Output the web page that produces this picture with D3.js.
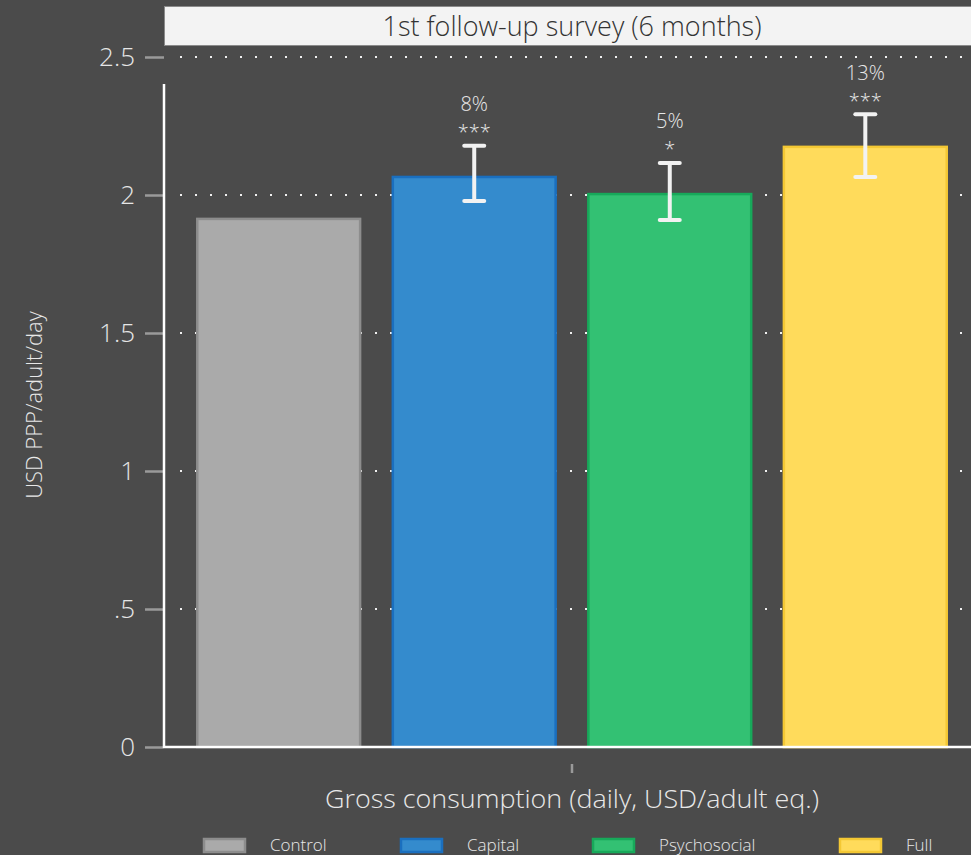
<!DOCTYPE html>
<html>
<head>
<meta charset="utf-8">
<script src="https://cdn.jsdelivr.net/npm/d3@7/dist/d3.min.js"></script>
<style>
  html, body { margin: 0; padding: 0; background: #4b4b4b; }
  svg { display: block; }
  text { font-family: "Open Sans", "Noto Sans", sans-serif; }
</style>
</head>
<body>
<script>
// ---- Data ----
const categories = ["Control", "Capital", "Psychosocial", "Full"];
const means = [1.917, 2.069, 2.007, 2.178];
const ciLow = [null, 1.978, 1.909, 2.065];
const ciHigh = [null, 2.178, 2.116, 2.293];
const pctLabels = ["", "8%", "5%", "13%"];
const starLabels = ["", "***", "*", "***"];
const fills = ["#aaaaaa", "#348bcd", "#33c173", "#ffdb5b"];
const strokes = ["#8d8d8d", "#1a6fbf", "#17a95a", "#f4c834"];
const yTicks = [0, 0.5, 1, 1.5, 2, 2.5];
const yTickLabels = ["0", ".5", "1", "1.5", "2", "2.5"];
const titleText = "1st follow-up survey (6 months)";
const xTitle = "Gross consumption (daily, USD/adult eq.)";
const yTitle = "USD PPP/adult/day";

// ---- Layout ----
const W = 971, H = 855;
const svg = d3.select("body").append("svg").attr("width", W).attr("height", H);
svg.append("rect").attr("width", W).attr("height", H).attr("fill", "#4b4b4b");

const x0 = 164, x1 = 980;
const y = d3.scaleLinear().domain([0, 2.5]).range([747, 57]);
const x = d3.scaleBand().domain(categories).range([x0, x1]).paddingInner(0.157).paddingOuter(0.165);

// Title strip
svg.append("rect").attr("x", 164.5).attr("y", 6.5).attr("width", 820).attr("height", 39)
  .attr("fill", "#f3f3f3").attr("stroke", "#8a8a8a").attr("stroke-width", 1);
svg.append("text").attr("x", 572).attr("y", 25).attr("text-anchor", "middle")
  .attr("dominant-baseline", "central").attr("fill", "#333").attr("font-size", 27)
  .attr("font-weight", 300).attr("textLength", 379).attr("lengthAdjust", "spacingAndGlyphs")
  .text(titleText);

// Gridlines (dotted)
svg.append("g").selectAll("line").data(yTicks.filter(d => d > 0)).join("line")
  .attr("x1", 180).attr("x2", W + 10)
  .attr("y1", d => y(d)).attr("y2", d => y(d))
  .attr("stroke", "#f0f0f0").attr("stroke-width", 2).attr("stroke-dasharray", "2,13");

// Y tick marks and labels
const yAxis = d3.axisLeft(y).tickValues(yTicks)
  .tickFormat((d, i) => yTickLabels[i]).tickSize(19).tickPadding(10);
const gy = svg.append("g").attr("transform", `translate(${x0},0)`).call(yAxis);
gy.select(".domain").remove();
gy.selectAll(".tick line").attr("stroke", "#9a9a9a").attr("stroke-width", 2.5);
gy.selectAll(".tick text").attr("fill", "#e6e6e6").attr("font-size", 26)
  .attr("font-weight", 300).style("font-family", '"Open Sans", sans-serif');

// Bars
svg.append("g").selectAll("rect").data(categories).join("rect")
  .attr("x", d => x(d) + 1).attr("width", x.bandwidth() - 2)
  .attr("y", (d, i) => y(means[i]) + 1)
  .attr("height", (d, i) => y(0) - y(means[i]) - 1)
  .attr("fill", (d, i) => fills[i]).attr("stroke", (d, i) => strokes[i]).attr("stroke-width", 2.5);

// Axes lines
svg.append("line").attr("x1", x0).attr("x2", x0).attr("y1", 84).attr("y2", 748)
  .attr("stroke", "#ffffff").attr("stroke-width", 2.5);
svg.append("line").attr("x1", x0).attr("x2", W).attr("y1", 747).attr("y2", 747)
  .attr("stroke", "#ffffff").attr("stroke-width", 2.5);

// x tick
svg.append("line").attr("x1", 572).attr("x2", 572).attr("y1", 764).attr("y2", 773)
  .attr("stroke", "#9a9a9a").attr("stroke-width", 2.5);

// Error bars
const eb = svg.append("g");
categories.forEach((c, i) => {
  if (ciLow[i] == null) return;
  const cx = x(c) + x.bandwidth() / 2;
  eb.append("line").attr("x1", cx).attr("x2", cx).attr("y1", y(ciHigh[i])).attr("y2", y(ciLow[i]))
    .attr("stroke", "#f2f2f2").attr("stroke-width", 4);
  [ciHigh[i], ciLow[i]].forEach(v => {
    eb.append("line").attr("x1", cx - 10).attr("x2", cx + 10).attr("y1", y(v)).attr("y2", y(v))
      .attr("stroke", "#f2f2f2").attr("stroke-width", 4).attr("stroke-linecap", "round");
  });
  eb.append("text").attr("x", cx).attr("y", y(ciHigh[i]) - 42).attr("text-anchor", "middle")
    .attr("dominant-baseline", "central").attr("fill", "#e8e8e8").attr("font-size", 20)
    .attr("font-weight", 300).text(pctLabels[i]);
  eb.append("text").attr("x", cx).attr("y", y(ciHigh[i]) - 14).attr("text-anchor", "middle")
    .attr("dominant-baseline", "central").attr("fill", "#e8e8e8").attr("font-size", 20)
    .attr("font-weight", 300).text(starLabels[i]);
});

// Axis titles
svg.append("text").attr("x", 572).attr("y", 798).attr("text-anchor", "middle")
  .attr("dominant-baseline", "central").attr("fill", "#e8e8e8").attr("font-size", 26)
  .attr("font-weight", 300).attr("textLength", 494).attr("lengthAdjust", "spacingAndGlyphs")
  .text(xTitle);
svg.append("text").attr("transform", "translate(33,405) rotate(-90)").attr("text-anchor", "middle")
  .attr("dominant-baseline", "central").attr("fill", "#e8e8e8").attr("font-size", 22)
  .attr("font-weight", 300).text(yTitle);

// Legend
const legX = [203, 400, 592, 839];
const lg = svg.append("g");
categories.forEach((c, i) => {
  lg.append("rect").attr("x", legX[i] + 1).attr("y", 839).attr("width", 41).attr("height", 13)
    .attr("fill", fills[i]).attr("stroke", strokes[i]).attr("stroke-width", 2.5);
  lg.append("text").attr("x", legX[i] + 67).attr("y", 844).attr("dominant-baseline", "central")
    .attr("fill", "#e8e8e8").attr("font-size", 17).attr("font-weight", 300).text(c);
});
</script>
</body>
</html>
